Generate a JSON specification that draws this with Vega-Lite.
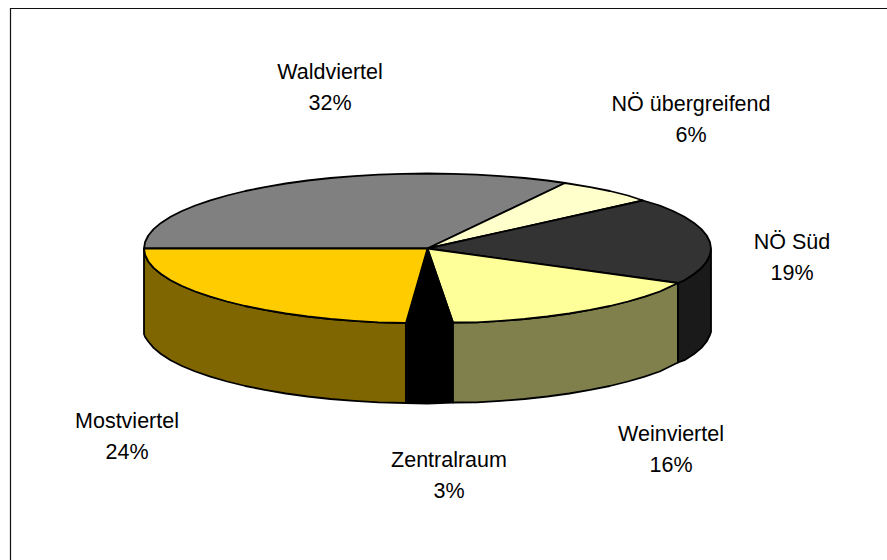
{"$schema":"https://vega.github.io/schema/vega-lite/v6.json","width":887,"height":560,"padding":0,"autosize":{"type":"fit","contains":"padding"},"background":"white","config":{"view":{"stroke":null}},
"datasets":{
"frame":[{"seq":1,"px":10.5,"py":560},{"seq":2,"px":10.5,"py":8.5},{"seq":3,"px":887,"py":8.5}],
"sides":[
{"part":"Mostviertel side","seq":1,"px":144,"py":248.5},{"part":"Mostviertel side","seq":2,"px":145.1,"py":255},{"part":"Mostviertel side","seq":3,"px":148.3,"py":261.5},{"part":"Mostviertel side","seq":4,"px":153.6,"py":267.9},{"part":"Mostviertel side","seq":5,"px":161,"py":274},{"part":"Mostviertel side","seq":6,"px":170.6,"py":280.2},{"part":"Mostviertel side","seq":7,"px":182,"py":286},{"part":"Mostviertel side","seq":8,"px":195.3,"py":291.5},{"part":"Mostviertel side","seq":9,"px":210.3,"py":296.7},{"part":"Mostviertel side","seq":10,"px":227.1,"py":301.5},{"part":"Mostviertel side","seq":11,"px":245.3,"py":306},{"part":"Mostviertel side","seq":12,"px":264.8,"py":309.9},{"part":"Mostviertel side","seq":13,"px":285.8,"py":313.5},{"part":"Mostviertel side","seq":14,"px":307.6,"py":316.5},{"part":"Mostviertel side","seq":15,"px":330.5,"py":319},{"part":"Mostviertel side","seq":16,"px":354.1,"py":320.9},{"part":"Mostviertel side","seq":17,"px":378.3,"py":322.4},{"part":"Mostviertel side","seq":18,"px":406,"py":323},{"part":"Mostviertel side","seq":19,"px":406,"py":403},{"part":"Mostviertel side","seq":20,"px":378.3,"py":402.4},{"part":"Mostviertel side","seq":21,"px":354.1,"py":400.9},{"part":"Mostviertel side","seq":22,"px":330.5,"py":399},{"part":"Mostviertel side","seq":23,"px":307.6,"py":396.5},{"part":"Mostviertel side","seq":24,"px":285.8,"py":393.5},{"part":"Mostviertel side","seq":25,"px":264.8,"py":389.9},{"part":"Mostviertel side","seq":26,"px":245.3,"py":386},{"part":"Mostviertel side","seq":27,"px":227.1,"py":381.5},{"part":"Mostviertel side","seq":28,"px":210.3,"py":376.7},{"part":"Mostviertel side","seq":29,"px":195.3,"py":371.5},{"part":"Mostviertel side","seq":30,"px":182,"py":366},{"part":"Mostviertel side","seq":31,"px":170.6,"py":360.2},{"part":"Mostviertel side","seq":32,"px":161,"py":354},{"part":"Mostviertel side","seq":33,"px":153.6,"py":347.9},{"part":"Mostviertel side","seq":34,"px":148.3,"py":341.5},{"part":"Mostviertel side","seq":35,"px":145.1,"py":337},{"part":"Mostviertel side","seq":36,"px":144,"py":334},{"part":"Mostviertel side","seq":37,"px":144,"py":248.5},
{"part":"Zentralraum side","seq":1,"px":406,"py":323},{"part":"Zentralraum side","seq":2,"px":427.5,"py":323.5},{"part":"Zentralraum side","seq":3,"px":453,"py":322.5},{"part":"Zentralraum side","seq":4,"px":453,"py":402.5},{"part":"Zentralraum side","seq":5,"px":427.5,"py":403.5},{"part":"Zentralraum side","seq":6,"px":406,"py":403},{"part":"Zentralraum side","seq":7,"px":406,"py":323},
{"part":"Weinviertel side","seq":1,"px":453,"py":322.5},{"part":"Weinviertel side","seq":2,"px":476.7,"py":322.4},{"part":"Weinviertel side","seq":3,"px":500.9,"py":320.9},{"part":"Weinviertel side","seq":4,"px":524.5,"py":319},{"part":"Weinviertel side","seq":5,"px":547.4,"py":316.5},{"part":"Weinviertel side","seq":6,"px":569.3,"py":313.5},{"part":"Weinviertel side","seq":7,"px":590.2,"py":309.9},{"part":"Weinviertel side","seq":8,"px":609.8,"py":306},{"part":"Weinviertel side","seq":9,"px":627.9,"py":301.5},{"part":"Weinviertel side","seq":10,"px":644.7,"py":296.7},{"part":"Weinviertel side","seq":11,"px":659.7,"py":291.5},{"part":"Weinviertel side","seq":12,"px":678,"py":283},{"part":"Weinviertel side","seq":13,"px":678,"py":362.5},{"part":"Weinviertel side","seq":14,"px":659.7,"py":371.5},{"part":"Weinviertel side","seq":15,"px":644.7,"py":376.7},{"part":"Weinviertel side","seq":16,"px":627.9,"py":381.5},{"part":"Weinviertel side","seq":17,"px":609.8,"py":386},{"part":"Weinviertel side","seq":18,"px":590.2,"py":389.9},{"part":"Weinviertel side","seq":19,"px":569.3,"py":393.5},{"part":"Weinviertel side","seq":20,"px":547.4,"py":396.5},{"part":"Weinviertel side","seq":21,"px":524.5,"py":399},{"part":"Weinviertel side","seq":22,"px":500.9,"py":400.9},{"part":"Weinviertel side","seq":23,"px":476.7,"py":402.4},{"part":"Weinviertel side","seq":24,"px":453,"py":402.5},{"part":"Weinviertel side","seq":25,"px":453,"py":322.5},
{"part":"NÖ Süd side","seq":1,"px":678,"py":283},{"part":"NÖ Süd side","seq":2,"px":684.4,"py":280.2},{"part":"NÖ Süd side","seq":3,"px":694,"py":274},{"part":"NÖ Süd side","seq":4,"px":701.4,"py":267.9},{"part":"NÖ Süd side","seq":5,"px":706.7,"py":261.5},{"part":"NÖ Süd side","seq":6,"px":709.9,"py":255},{"part":"NÖ Süd side","seq":7,"px":711,"py":250},{"part":"NÖ Süd side","seq":8,"px":711,"py":332},{"part":"NÖ Süd side","seq":9,"px":709.9,"py":335},{"part":"NÖ Süd side","seq":10,"px":706.7,"py":341.5},{"part":"NÖ Süd side","seq":11,"px":701.4,"py":347.9},{"part":"NÖ Süd side","seq":12,"px":694,"py":354},{"part":"NÖ Süd side","seq":13,"px":684.4,"py":360.2},{"part":"NÖ Süd side","seq":14,"px":678,"py":362.5},{"part":"NÖ Süd side","seq":15,"px":678,"py":283}],
"tops":[
{"part":"Waldviertel","seq":1,"px":427.5,"py":248.5},{"part":"Waldviertel","seq":2,"px":144,"py":248.5},{"part":"Waldviertel","seq":3,"px":145.1,"py":242},{"part":"Waldviertel","seq":4,"px":148.3,"py":235.5},{"part":"Waldviertel","seq":5,"px":153.6,"py":229.1},{"part":"Waldviertel","seq":6,"px":161,"py":222.9},{"part":"Waldviertel","seq":7,"px":170.6,"py":216.8},{"part":"Waldviertel","seq":8,"px":182,"py":211},{"part":"Waldviertel","seq":9,"px":195.3,"py":205.5},{"part":"Waldviertel","seq":10,"px":210.3,"py":200.3},{"part":"Waldviertel","seq":11,"px":227.1,"py":195.5},{"part":"Waldviertel","seq":12,"px":245.3,"py":191},{"part":"Waldviertel","seq":13,"px":264.8,"py":187.1},{"part":"Waldviertel","seq":14,"px":285.8,"py":183.5},{"part":"Waldviertel","seq":15,"px":307.6,"py":180.5},{"part":"Waldviertel","seq":16,"px":330.5,"py":178},{"part":"Waldviertel","seq":17,"px":354.1,"py":176.1},{"part":"Waldviertel","seq":18,"px":378.3,"py":174.6},{"part":"Waldviertel","seq":19,"px":402.8,"py":173.8},{"part":"Waldviertel","seq":20,"px":427.5,"py":173.5},{"part":"Waldviertel","seq":21,"px":452.2,"py":173.8},{"part":"Waldviertel","seq":22,"px":476.7,"py":174.6},{"part":"Waldviertel","seq":23,"px":500.9,"py":176.1},{"part":"Waldviertel","seq":24,"px":524.5,"py":178},{"part":"Waldviertel","seq":25,"px":547.4,"py":180.5},{"part":"Waldviertel","seq":26,"px":565,"py":183},{"part":"Waldviertel","seq":27,"px":427.5,"py":248.5},
{"part":"NÖ übergreifend","seq":1,"px":427.5,"py":248.5},{"part":"NÖ übergreifend","seq":2,"px":565,"py":183},{"part":"NÖ übergreifend","seq":3,"px":590.2,"py":187.1},{"part":"NÖ übergreifend","seq":4,"px":609.8,"py":191},{"part":"NÖ übergreifend","seq":5,"px":627.9,"py":195.5},{"part":"NÖ übergreifend","seq":6,"px":643,"py":200.5},{"part":"NÖ übergreifend","seq":7,"px":427.5,"py":248.5},
{"part":"NÖ Süd","seq":1,"px":427.5,"py":248.5},{"part":"NÖ Süd","seq":2,"px":643,"py":200.5},{"part":"NÖ Süd","seq":3,"px":659.7,"py":205.5},{"part":"NÖ Süd","seq":4,"px":673,"py":211},{"part":"NÖ Süd","seq":5,"px":684.4,"py":216.8},{"part":"NÖ Süd","seq":6,"px":694,"py":222.9},{"part":"NÖ Süd","seq":7,"px":701.4,"py":229.1},{"part":"NÖ Süd","seq":8,"px":706.7,"py":235.5},{"part":"NÖ Süd","seq":9,"px":709.9,"py":242},{"part":"NÖ Süd","seq":10,"px":711,"py":248.5},{"part":"NÖ Süd","seq":11,"px":709.9,"py":255},{"part":"NÖ Süd","seq":12,"px":706.7,"py":261.5},{"part":"NÖ Süd","seq":13,"px":701.4,"py":267.9},{"part":"NÖ Süd","seq":14,"px":694,"py":274},{"part":"NÖ Süd","seq":15,"px":684.4,"py":280.2},{"part":"NÖ Süd","seq":16,"px":678,"py":283},{"part":"NÖ Süd","seq":17,"px":427.5,"py":248.5},
{"part":"Weinviertel","seq":1,"px":427.5,"py":248.5},{"part":"Weinviertel","seq":2,"px":678,"py":283},{"part":"Weinviertel","seq":3,"px":659.7,"py":291.5},{"part":"Weinviertel","seq":4,"px":644.7,"py":296.7},{"part":"Weinviertel","seq":5,"px":627.9,"py":301.5},{"part":"Weinviertel","seq":6,"px":609.8,"py":306},{"part":"Weinviertel","seq":7,"px":590.2,"py":309.9},{"part":"Weinviertel","seq":8,"px":569.3,"py":313.5},{"part":"Weinviertel","seq":9,"px":547.4,"py":316.5},{"part":"Weinviertel","seq":10,"px":524.5,"py":319},{"part":"Weinviertel","seq":11,"px":500.9,"py":320.9},{"part":"Weinviertel","seq":12,"px":476.7,"py":322.4},{"part":"Weinviertel","seq":13,"px":453,"py":322.5},{"part":"Weinviertel","seq":14,"px":427.5,"py":248.5},
{"part":"Zentralraum","seq":1,"px":427.5,"py":248.5},{"part":"Zentralraum","seq":2,"px":453,"py":322.5},{"part":"Zentralraum","seq":3,"px":427.5,"py":323.5},{"part":"Zentralraum","seq":4,"px":406,"py":323},{"part":"Zentralraum","seq":5,"px":427.5,"py":248.5},
{"part":"Mostviertel","seq":1,"px":427.5,"py":248.5},{"part":"Mostviertel","seq":2,"px":406,"py":323},{"part":"Mostviertel","seq":3,"px":378.3,"py":322.4},{"part":"Mostviertel","seq":4,"px":354.1,"py":320.9},{"part":"Mostviertel","seq":5,"px":330.5,"py":319},{"part":"Mostviertel","seq":6,"px":307.6,"py":316.5},{"part":"Mostviertel","seq":7,"px":285.8,"py":313.5},{"part":"Mostviertel","seq":8,"px":264.8,"py":309.9},{"part":"Mostviertel","seq":9,"px":245.3,"py":306},{"part":"Mostviertel","seq":10,"px":227.1,"py":301.5},{"part":"Mostviertel","seq":11,"px":210.3,"py":296.7},{"part":"Mostviertel","seq":12,"px":195.3,"py":291.5},{"part":"Mostviertel","seq":13,"px":182,"py":286},{"part":"Mostviertel","seq":14,"px":170.6,"py":280.2},{"part":"Mostviertel","seq":15,"px":161,"py":274},{"part":"Mostviertel","seq":16,"px":153.6,"py":267.9},{"part":"Mostviertel","seq":17,"px":148.3,"py":261.5},{"part":"Mostviertel","seq":18,"px":145.1,"py":255},{"part":"Mostviertel","seq":19,"px":144,"py":248.5},{"part":"Mostviertel","seq":20,"px":427.5,"py":248.5}],
"labels":[
{"label":"Waldviertel\n32%","px":330,"py":73},
{"label":"NÖ übergreifend\n6%","px":691,"py":105},
{"label":"NÖ Süd\n19%","px":792,"py":243},
{"label":"Weinviertel\n16%","px":671,"py":435},
{"label":"Zentralraum\n3%","px":449,"py":461},
{"label":"Mostviertel\n24%","px":127,"py":422}]},
"encoding":{
"x":{"field":"px","type":"quantitative","scale":{"domain":[0,887],"nice":false,"zero":false},"axis":null},
"y":{"field":"py","type":"quantitative","scale":{"domain":[560,0],"nice":false,"zero":false},"axis":null}},
"layer":[
{"data":{"name":"frame"},"mark":{"type":"line","stroke":"#111111","strokeWidth":1.2,"clip":true},"encoding":{"order":{"field":"seq","type":"quantitative"}}},
{"data":{"name":"sides"},"mark":{"type":"line","stroke":"#000000","strokeWidth":1.8,"strokeJoin":"round"},"encoding":{"order":{"field":"seq","type":"quantitative"},"detail":{"field":"part"},"fill":{"field":"part","type":"nominal","legend":null,"scale":{"domain":["Waldviertel","NÖ übergreifend","NÖ Süd","Weinviertel","Zentralraum","Mostviertel","NÖ Süd side","Weinviertel side","Zentralraum side","Mostviertel side"],"range":["#808080","#FFFFCC","#333333","#FFFF99","#000000","#FFCC00","#1A1A1A","#80804D","#000000","#806600"]}}}},
{"data":{"name":"tops"},"mark":{"type":"line","stroke":"#000000","strokeWidth":1.8,"strokeJoin":"round"},"encoding":{"order":{"field":"seq","type":"quantitative"},"detail":{"field":"part"},"fill":{"field":"part","type":"nominal","legend":null}}},
{"data":{"name":"labels"},"mark":{"type":"text","font":"Liberation Sans","fontSize":21.5,"lineHeight":31,"lineBreak":"\n","align":"center","baseline":"middle","color":"#000000"},"encoding":{"text":{"field":"label"}}}
]}
